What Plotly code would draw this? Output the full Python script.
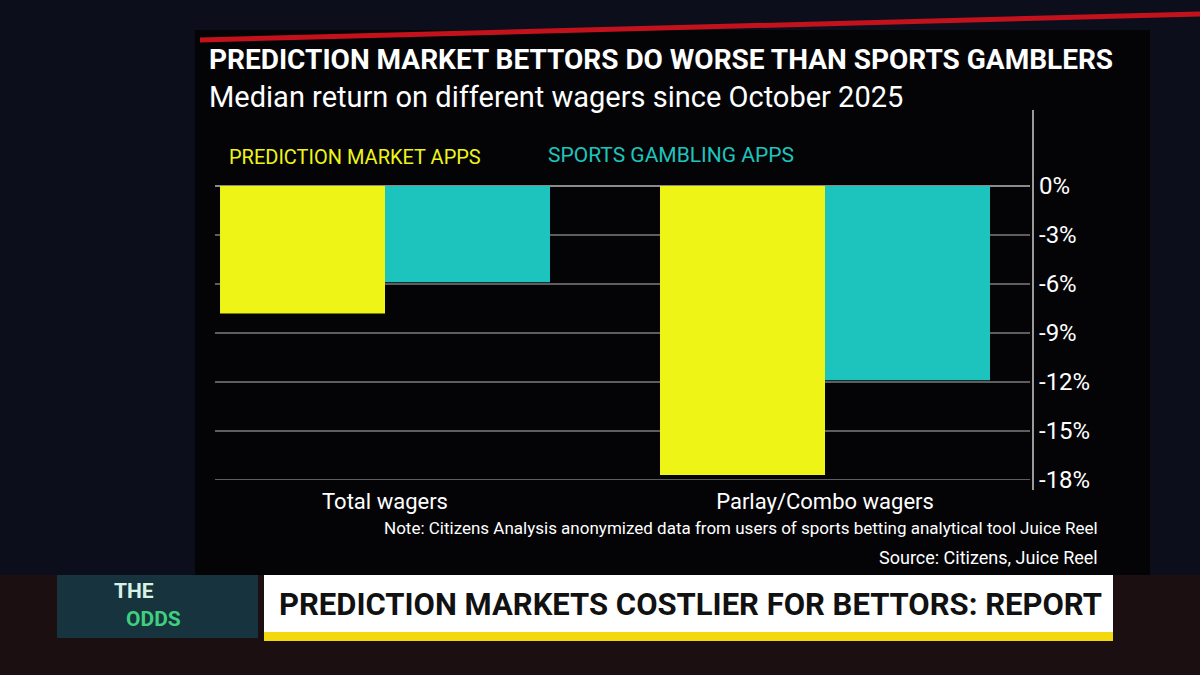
import plotly.graph_objects as go

# ---- data ----
categories = ["Total wagers", "Parlay/Combo wagers"]
prediction_market = [-7.8, -17.7]
sports_gambling = [-5.9, -11.9]
y_ticks = [0, -3, -6, -9, -12, -15, -18]
y_tick_labels = ["0%", "-3%", "-6%", "-9%", "-12%", "-15%", "-18%"]

# ---- layout geometry (pixels) ----
W, H = 1200, 675
L, R, T, B = 215, 170, 186, 195
PW, PH = W - L - R, H - T - B

def px_x(px):
    return (px - L) / PW

def px_y(py):
    return (H - B - py) / PH

YELLOW = "#eef516"
TEAL = "#1dc4bd"
FONT = "Roboto, 'Liberation Sans', Arial, sans-serif"

xpos = list(range(len(categories)))
bar_w = 0.375

fig = go.Figure()
fig.add_trace(go.Bar(x=xpos, y=prediction_market, name="PREDICTION MARKET APPS",
                     marker=dict(color=YELLOW, line=dict(width=0)),
                     width=bar_w, offset=-bar_w))
fig.add_trace(go.Bar(x=xpos, y=sports_gambling, name="SPORTS GAMBLING APPS",
                     marker=dict(color=TEAL, line=dict(width=0)),
                     width=bar_w, offset=0))

shapes = []
# background panels
shapes.append(dict(type="rect", xref="paper", yref="paper", layer="below",
                   x0=px_x(0), x1=px_x(W), y0=px_y(H), y1=px_y(575),
                   fillcolor="#1c0f12", line=dict(width=0)))
shapes.append(dict(type="rect", xref="paper", yref="paper", layer="below",
                   x0=px_x(195), x1=px_x(1150), y0=px_y(575), y1=px_y(30),
                   fillcolor="#040407", line=dict(width=0)))
# red accent line at top
shapes.append(dict(type="line", xref="paper", yref="paper",
                   x0=px_x(200), x1=px_x(1200), y0=px_y(40), y1=px_y(14),
                   line=dict(color="#c4121c", width=5)))
# baseline at -18%
shapes.append(dict(type="line", xref="paper", yref="y", layer="below",
                   x0=0, x1=1, y0=-18, y1=-18,
                   line=dict(color="#5e5e5e", width=2)))
# right axis vertical line
shapes.append(dict(type="line", xref="paper", yref="paper",
                   x0=px_x(1033), x1=px_x(1033), y0=px_y(490), y1=px_y(110),
                   line=dict(color="#9a9a9a", width=2)))
# lower-third banner
shapes.append(dict(type="rect", xref="paper", yref="paper",
                   x0=px_x(57), x1=px_x(258), y0=px_y(638), y1=px_y(575),
                   fillcolor="#17333d", line=dict(width=0)))
shapes.append(dict(type="rect", xref="paper", yref="paper",
                   x0=px_x(264), x1=px_x(1113), y0=px_y(632), y1=px_y(575),
                   fillcolor="#ffffff", line=dict(width=0)))
shapes.append(dict(type="rect", xref="paper", yref="paper",
                   x0=px_x(264), x1=px_x(1113), y0=px_y(641), y1=px_y(632),
                   fillcolor="#f2d80c", line=dict(width=0)))

annotations = [
    dict(text="<b>PREDICTION MARKET BETTORS DO WORSE THAN SPORTS GAMBLERS</b>",
         x=px_x(207), y=px_y(60), xanchor="left", yanchor="middle",
         font=dict(size=28, color="#ffffff", family=FONT)),
    dict(text="Median return on different wagers since October 2025",
         x=px_x(207), y=px_y(97), xanchor="left", yanchor="middle",
         font=dict(size=29, color="#ffffff", family=FONT)),
    dict(text="PREDICTION MARKET APPS",
         x=px_x(227), y=px_y(157), xanchor="left", yanchor="middle",
         font=dict(size=20, color=YELLOW, family=FONT)),
    dict(text="SPORTS GAMBLING APPS",
         x=px_x(546), y=px_y(155), xanchor="left", yanchor="middle",
         font=dict(size=21, color=TEAL, family=FONT)),
    dict(text="Note: Citizens Analysis anonymized data from users of sports betting analytical tool Juice Reel",
         x=px_x(1100), y=px_y(528), xanchor="right", yanchor="middle",
         font=dict(size=17, color="#ffffff", family=FONT)),
    dict(text="Source: Citizens, Juice Reel",
         x=px_x(1100), y=px_y(557), xanchor="right", yanchor="middle",
         font=dict(size=18, color="#ffffff", family=FONT)),
    dict(text="<b>THE</b>", x=px_x(112), y=px_y(591), xanchor="left", yanchor="middle",
         font=dict(size=21, color="#d9f2e6", family=FONT)),
    dict(text="<b>ODDS</b>", x=px_x(124), y=px_y(619), xanchor="left", yanchor="middle",
         font=dict(size=21, color="#3fd07f", family=FONT)),
    dict(text="<b>PREDICTION MARKETS COSTLIER FOR BETTORS: REPORT</b>",
         x=px_x(690), y=px_y(604), xanchor="center", yanchor="middle",
         font=dict(size=31, color="#111111", family=FONT)),
]
for a in annotations:
    a.update(xref="paper", yref="paper", showarrow=False)

fig.update_layout(
    width=W, height=H, autosize=False,
    margin=dict(l=L, r=R, t=T, b=B, pad=0),
    paper_bgcolor="#0c0e1c", plot_bgcolor="rgba(0,0,0,0)",
    barmode="overlay", showlegend=False, hovermode=False,
    font=dict(family=FONT, color="#ffffff"),
    shapes=shapes, annotations=annotations,
    xaxis=dict(range=[-0.3864, 1.4659], tickvals=xpos, ticktext=categories,
               showgrid=False, zeroline=False, showline=False, ticks="",
               tickfont=dict(size=22, color="#ffffff"), ticklabelstandoff=6,
               fixedrange=True),
    yaxis=dict(range=[-18, 0], side="right", tickvals=y_ticks, ticktext=y_tick_labels,
               showgrid=True, gridcolor="#5e5e5e", gridwidth=2,
               zeroline=True, zerolinecolor="#8a8a8a", zerolinewidth=2,
               showline=False, ticks="", ticklabelstandoff=8,
               tickfont=dict(size=24, color="#ffffff"), fixedrange=True),
)

fig.write_html("out.html", config={"displayModeBar": False})
